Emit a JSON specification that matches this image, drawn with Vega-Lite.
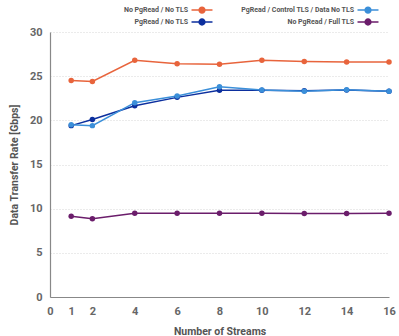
{
  "$schema": "https://vega.github.io/schema/vega-lite/v6.json",
  "width": 339,
  "height": 265,
  "autosize": {"type": "none"},
  "padding": {"left": 50, "top": 32, "right": 10, "bottom": 39},
  "background": "white",
  "config": {
    "view": {"stroke": null},
    "font": "Roboto",
    "axis": {"labelFont": "Roboto", "titleFont": "Roboto", "labelColor": "#666", "titleColor": "#555", "labelFontWeight": "bold", "titleFontWeight": "bold", "domainColor": "#888", "domainWidth": 1.2, "ticks": false}
  },
  "data": {"values": [
    {"s": "No PgRead / Full TLS", "x": 1, "y": 9.15},
    {"s": "No PgRead / Full TLS", "x": 2, "y": 8.85},
    {"s": "No PgRead / Full TLS", "x": 4, "y": 9.47},
    {"s": "No PgRead / Full TLS", "x": 6, "y": 9.48},
    {"s": "No PgRead / Full TLS", "x": 8, "y": 9.48},
    {"s": "No PgRead / Full TLS", "x": 10, "y": 9.48},
    {"s": "No PgRead / Full TLS", "x": 12, "y": 9.45},
    {"s": "No PgRead / Full TLS", "x": 14, "y": 9.45},
    {"s": "No PgRead / Full TLS", "x": 16, "y": 9.48},
    {"s": "No PgRead / No TLS", "x": 1, "y": 24.5},
    {"s": "No PgRead / No TLS", "x": 2, "y": 24.4},
    {"s": "No PgRead / No TLS", "x": 4, "y": 26.8},
    {"s": "No PgRead / No TLS", "x": 6, "y": 26.4},
    {"s": "No PgRead / No TLS", "x": 8, "y": 26.35},
    {"s": "No PgRead / No TLS", "x": 10, "y": 26.8},
    {"s": "No PgRead / No TLS", "x": 12, "y": 26.65},
    {"s": "No PgRead / No TLS", "x": 14, "y": 26.6},
    {"s": "No PgRead / No TLS", "x": 16, "y": 26.6},
    {"s": "PgRead / No TLS", "x": 1, "y": 19.4},
    {"s": "PgRead / No TLS", "x": 2, "y": 20.1},
    {"s": "PgRead / No TLS", "x": 4, "y": 21.65},
    {"s": "PgRead / No TLS", "x": 6, "y": 22.6},
    {"s": "PgRead / No TLS", "x": 8, "y": 23.4},
    {"s": "PgRead / No TLS", "x": 10, "y": 23.4},
    {"s": "PgRead / No TLS", "x": 12, "y": 23.35},
    {"s": "PgRead / No TLS", "x": 14, "y": 23.42},
    {"s": "PgRead / No TLS", "x": 16, "y": 23.3},
    {"s": "PgRead / Control TLS / Data No TLS", "x": 1, "y": 19.5},
    {"s": "PgRead / Control TLS / Data No TLS", "x": 2, "y": 19.4},
    {"s": "PgRead / Control TLS / Data No TLS", "x": 4, "y": 22.0},
    {"s": "PgRead / Control TLS / Data No TLS", "x": 6, "y": 22.75},
    {"s": "PgRead / Control TLS / Data No TLS", "x": 8, "y": 23.8},
    {"s": "PgRead / Control TLS / Data No TLS", "x": 10, "y": 23.44},
    {"s": "PgRead / Control TLS / Data No TLS", "x": 12, "y": 23.3},
    {"s": "PgRead / Control TLS / Data No TLS", "x": 14, "y": 23.45},
    {"s": "PgRead / Control TLS / Data No TLS", "x": 16, "y": 23.28}
  ]},
  "mark": {"type": "line", "strokeWidth": 1.5, "point": {"filled": true, "size": 30}},
  "encoding": {
    "x": {"field": "x", "type": "quantitative", "scale": {"domain": [0, 16], "nice": false},
      "axis": {"values": [0, 1, 2, 4, 6, 8, 10, 12, 14, 16], "grid": false, "title": "Number of Streams", "labelFontSize": 11, "titleFontSize": 10.5, "labelPadding": 8, "titlePadding": 10, "labelFlush": false}},
    "y": {"field": "y", "type": "quantitative", "scale": {"domain": [0, 30], "nice": false},
      "axis": {"values": [0, 5, 10, 15, 20, 25, 30], "title": "Data Transfer Rate [Gbps]", "labelFontSize": 11, "titleFontSize": 10.5, "labelPadding": 8, "titlePadding": 10, "gridColor": "#ccc", "gridDash": [1, 2], "gridWidth": 0.8}},
    "color": {"field": "s", "type": "nominal",
      "scale": {"domain": ["No PgRead / No TLS", "PgRead / Control TLS / Data No TLS", "PgRead / No TLS", "No PgRead / Full TLS"],
        "range": ["#e8643c", "#3b8fd9", "#0c2f9e", "#6b1d6b"]},
      "legend": {"orient": "none", "legendX": 146, "legendY": -28, "title": null, "direction": "horizontal", "columns": 2, "columnPadding": 24, "rowPadding": -1,
        "labelFont": "Roboto", "labelFontSize": 7, "labelFontWeight": "bold", "labelColor": "#555", "labelAlign": "right", "labelOffset": -20, "labelLimit": 300,
        "symbolType": "M-2,0H2M0.55,0A0.55,0.55,0,1,1,-0.55,0A0.55,0.55,0,1,1,0.55,0", "symbolSize": 110, "symbolStrokeWidth": 1.5,
        "encode": {"symbols": {"update": {"fill": {"scale": "color", "field": "value"}}}}}}
  }
}
